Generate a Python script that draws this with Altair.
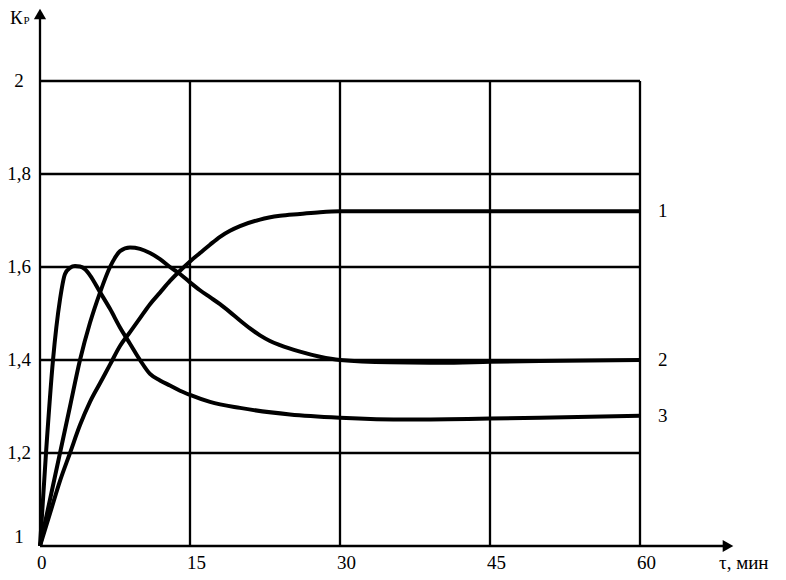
import altair as alt
import pandas as pd

# ---- data ----
t1 = [0, 1, 2, 3, 4, 5, 6, 7, 8, 9, 10, 11, 12, 13, 14, 15, 16, 17, 18, 19, 20, 22, 24, 26, 28, 30, 40, 50, 60]
k1 = [1.0, 1.07, 1.14, 1.2, 1.26, 1.31, 1.35, 1.39, 1.43, 1.46, 1.49, 1.52, 1.545, 1.57, 1.592, 1.612, 1.63,
      1.648, 1.665, 1.678, 1.688, 1.702, 1.71, 1.714, 1.718, 1.72, 1.72, 1.72, 1.72]

t2 = [0, 1, 2, 3, 4, 5, 6, 7, 7.5, 8, 9, 10, 11, 12, 13, 14, 15, 16, 17, 18, 19, 20, 21, 22, 23, 24, 26, 28, 30,
      35, 40, 45, 50, 60]
k2 = [1.0, 1.1, 1.2, 1.3, 1.4, 1.48, 1.545, 1.6, 1.62, 1.634, 1.642, 1.639, 1.63, 1.617, 1.6, 1.585, 1.567,
      1.55, 1.535, 1.52, 1.503, 1.485, 1.468, 1.453, 1.441, 1.432, 1.418, 1.407, 1.40, 1.395, 1.394, 1.396, 1.398, 1.40]

t3 = [0, 0.6, 1.3, 2, 2.5, 3, 3.5, 4, 4.5, 5, 6, 7, 8, 9, 10, 11, 12, 13, 14, 15, 17, 20, 25, 30, 37, 45, 50, 60]
k3 = [1.0, 1.2, 1.4, 1.53, 1.585, 1.598, 1.602, 1.601, 1.595, 1.582, 1.546, 1.51, 1.47, 1.435, 1.40, 1.37,
      1.356, 1.345, 1.334, 1.325, 1.31, 1.297, 1.283, 1.276, 1.272, 1.274, 1.276, 1.28]

x_ticks = [0, 15, 30, 45, 60]
x_tick_labels = ["0", "15", "30", "45", "60"]
y_ticks = [1.2, 1.4, 1.6, 1.8, 2.0]
y_tick_labels = ["1,2", "1,4", "1,6", "1,8", "2"]
curve_names = ["1", "2", "3"]

FONT = "Liberation Serif"
X_MAX = 73.8
Y_MAX = 2.15699

xs = alt.Scale(domain=[0, X_MAX], nice=False, zero=False)
ys = alt.Scale(domain=[1, Y_MAX], nice=False, zero=False)

curves = pd.DataFrame(
    [{"t": t, "k": k, "s": "1"} for t, k in zip(t1, k1)]
    + [{"t": t, "k": k, "s": "2"} for t, k in zip(t2, k2)]
    + [{"t": t, "k": k, "s": "3"} for t, k in zip(t3, k3)]
)

hgrid = pd.DataFrame({"y": y_ticks, "x0": 0, "x1": x_ticks[-1]})
vgrid = pd.DataFrame({"x": x_ticks[1:], "y0": 1.0, "y1": y_ticks[-1]})
axes_h = pd.DataFrame({"x0": [0], "x1": [68.6], "y": [1.0]})
axes_v = pd.DataFrame({"x": [0], "y0": [1.0], "y1": [2.14]})

X = lambda f: alt.X(f, scale=xs, axis=None)
Y = lambda f: alt.Y(f, scale=ys, axis=None)

grid_h = alt.Chart(hgrid).mark_rule(color="black", strokeWidth=2.3).encode(x=X("x0:Q"), x2="x1:Q", y=Y("y:Q"))
grid_v = alt.Chart(vgrid).mark_rule(color="black", strokeWidth=2.3).encode(x=X("x:Q"), y=Y("y0:Q"), y2="y1:Q")
ax_h = alt.Chart(axes_h).mark_rule(color="black", strokeWidth=2.3).encode(x=X("x0:Q"), x2="x1:Q", y=Y("y:Q"))
ax_v = alt.Chart(axes_v).mark_rule(color="black", strokeWidth=2.3).encode(x=X("x:Q"), y=Y("y0:Q"), y2="y1:Q")

arrow_up = alt.Chart(pd.DataFrame({"x": [0], "y": [2.1441]})).mark_point(
    shape="triangle-up", filled=True, color="black", size=150, opacity=1
).encode(x=X("x:Q"), y=Y("y:Q"))
arrow_right = alt.Chart(pd.DataFrame({"x": [68.8], "y": [1.0]})).mark_point(
    shape="triangle-right", filled=True, color="black", size=150, opacity=1
).encode(x=X("x:Q"), y=Y("y:Q"))

lines = alt.Chart(curves).mark_line(color="black", strokeWidth=4, interpolate="monotone").encode(
    x=X("t:Q"), y=Y("k:Q"), detail="s:N"
)

xlab = alt.Chart(pd.DataFrame({"x": x_ticks, "lab": x_tick_labels, "y": 1.0})).mark_text(
    font=FONT, fontSize=19, align="left", baseline="middle", dx=-3, dy=17, color="black"
).encode(x=X("x:Q"), y=Y("y:Q"), text="lab:N")

ylab = alt.Chart(pd.DataFrame({"y": y_ticks, "lab": y_tick_labels, "x": -2.1})).mark_text(
    font=FONT, fontSize=19, align="center", baseline="middle", color="black"
).encode(x=X("x:Q"), y=Y("y:Q"), text="lab:N")

ylab1 = alt.Chart(pd.DataFrame({"y": [1.0], "lab": ["1"], "x": -2.1})).mark_text(
    font=FONT, fontSize=19, align="center", baseline="middle", dy=-9, color="black"
).encode(x=X("x:Q"), y=Y("y:Q"), text="lab:N")

ends = pd.DataFrame({"x": 61.8, "y": [k1[-1], k2[-1], k3[-1]], "lab": curve_names})
endlab = alt.Chart(ends).mark_text(
    font=FONT, fontSize=19, align="left", baseline="middle", color="black"
).encode(x=X("x:Q"), y=Y("y:Q"), text="lab:N")

xtitle = alt.Chart(pd.DataFrame({"x": [67.9], "y": [1.0], "lab": ["τ, мин"]})).mark_text(
    font=FONT, fontSize=19, align="left", baseline="middle", dy=17, color="black"
).encode(x=X("x:Q"), y=Y("y:Q"), text="lab:N")

ytitle = alt.Chart(pd.DataFrame({"x": [-3.0], "y": [2.1226], "lab": ["К"]})).mark_text(
    font=FONT, fontSize=19, align="left", baseline="alphabetic", color="black"
).encode(x=X("x:Q"), y=Y("y:Q"), text="lab:N")
ysub = alt.Chart(pd.DataFrame({"x": [-1.65], "y": [2.1226], "lab": ["Р"]})).mark_text(
    font=FONT, fontSize=11, align="left", baseline="alphabetic", color="black"
).encode(x=X("x:Q"), y=Y("y:Q"), text="lab:N")

chart = alt.layer(
    grid_h, grid_v, ax_h, ax_v, arrow_up, arrow_right, lines,
    xlab, ylab, ylab1, endlab, xtitle, ytitle, ysub
).properties(
    width=738, height=538,
    padding={"left": 32, "top": 0, "right": 0, "bottom": 26},
    autosize="none",
    background="white",
).configure_view(stroke=None)

chart.save("out.html", embed_options={"renderer": "svg", "actions": False})
